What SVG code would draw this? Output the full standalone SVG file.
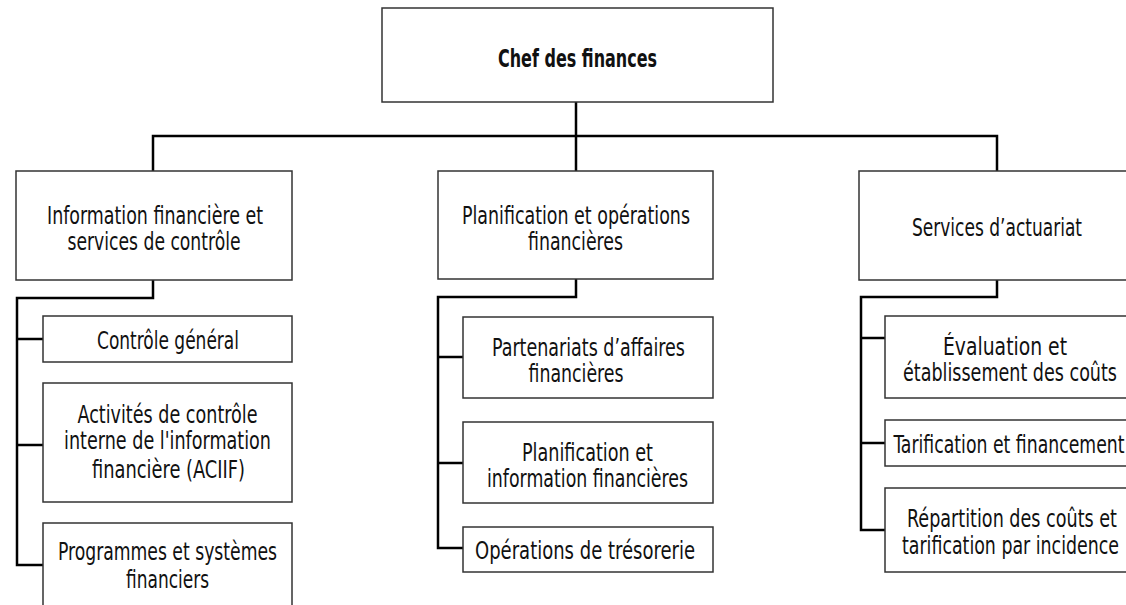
<svg xmlns="http://www.w3.org/2000/svg" width="1126" height="605" viewBox="0 0 1126 605">
<style>
.box{fill:#fff;stroke:#333;stroke-width:1.5}
.t{font-family:"DejaVu Sans Condensed","Liberation Sans",sans-serif;font-size:24px;fill:#111;text-anchor:middle}
.b{font-weight:bold}
.c{fill:none;stroke:#000;stroke-width:2.5}
</style>
<rect width="1126" height="605" fill="#fff"/>
<g id="connectors">
<path class="c" d="M576,102 V172 M153,171 V136 H997 V172"/>
<path class="c" d="M153,280 V298 H17 V565 H43 M17,339 H43 M17,445 H43"/>
<path class="c" d="M576,279 V297 H438 V548 H463 M438,357 H463 M438,463 H463"/>
<path class="c" d="M997,280 V297 H861 V530 H885 M861,338 H885 M861,443 H885"/>
</g>
<g id="chef">
<rect class="box" x="382" y="8" width="391" height="94"/>
<text class="t b" x="577.5" y="67" textLength="159" lengthAdjust="spacingAndGlyphs">Chef des finances</text>
</g>
<g id="info">
<rect class="box" x="16" y="171" width="276" height="109"/>
<text class="t" x="155" y="224" textLength="216" lengthAdjust="spacingAndGlyphs">Information financière et</text>
<text class="t" x="154" y="249.5" textLength="173" lengthAdjust="spacingAndGlyphs">services de contrôle</text>
</g>
<g id="plan">
<rect class="box" x="438" y="171" width="275" height="108"/>
<text class="t" x="576" y="224" textLength="228" lengthAdjust="spacingAndGlyphs">Planification et opérations</text>
<text class="t" x="575.5" y="249.5" textLength="95" lengthAdjust="spacingAndGlyphs">financières</text>
</g>
<g id="actu">
<rect class="box" x="859" y="171" width="276" height="109"/>
<text class="t" x="997" y="236" textLength="170" lengthAdjust="spacingAndGlyphs">Services d’actuariat</text>
</g>
<g id="controle">
<rect class="box" x="43" y="316" width="249" height="46"/>
<text class="t" x="168" y="349" textLength="142" lengthAdjust="spacingAndGlyphs">Contrôle général</text>
</g>
<g id="aciif">
<rect class="box" x="43" y="383" width="249" height="119"/>
<text class="t" x="167.5" y="423" textLength="180" lengthAdjust="spacingAndGlyphs">Activités de contrôle</text>
<text class="t" x="167.5" y="449" textLength="207" lengthAdjust="spacingAndGlyphs">interne de l'information</text>
<text class="t" x="168.5" y="478" textLength="153" lengthAdjust="spacingAndGlyphs">financière (ACIIF)</text>
</g>
<g id="programmes">
<rect class="box" x="43" y="523" width="249" height="100"/>
<text class="t" x="167.5" y="560" textLength="219" lengthAdjust="spacingAndGlyphs">Programmes et systèmes</text>
<text class="t" x="167.5" y="588" textLength="83" lengthAdjust="spacingAndGlyphs">financiers</text>
</g>
<g id="partenariats">
<rect class="box" x="463" y="317" width="250" height="81"/>
<text class="t" x="588.5" y="356" textLength="193" lengthAdjust="spacingAndGlyphs">Partenariats d’affaires</text>
<text class="t" x="576" y="382" textLength="95" lengthAdjust="spacingAndGlyphs">financières</text>
</g>
<g id="planinfo">
<rect class="box" x="463" y="422" width="250" height="81"/>
<text class="t" x="587.5" y="461" textLength="131" lengthAdjust="spacingAndGlyphs">Planification et</text>
<text class="t" x="587.5" y="487" textLength="201" lengthAdjust="spacingAndGlyphs">information financières</text>
</g>
<g id="tresorerie">
<rect class="box" x="463" y="527" width="250" height="45"/>
<text class="t" x="585" y="559" textLength="220" lengthAdjust="spacingAndGlyphs">Opérations de trésorerie</text>
</g>
<g id="evaluation">
<rect class="box" x="885" y="316" width="250" height="82"/>
<text class="t" x="1005" y="355" textLength="124" lengthAdjust="spacingAndGlyphs">Évaluation et</text>
<text class="t" x="1010" y="381" textLength="214" lengthAdjust="spacingAndGlyphs">établissement des coûts</text>
</g>
<g id="tarification">
<rect class="box" x="885" y="420" width="250" height="46"/>
<text class="t" x="1009" y="453" textLength="231" lengthAdjust="spacingAndGlyphs">Tarification et financement</text>
</g>
<g id="repartition">
<rect class="box" x="885" y="488" width="250" height="84"/>
<text class="t" x="1012" y="527" textLength="210" lengthAdjust="spacingAndGlyphs">Répartition des coûts et</text>
<text class="t" x="1010.5" y="554" textLength="217" lengthAdjust="spacingAndGlyphs">tarification par incidence</text>
</g>
</svg>
